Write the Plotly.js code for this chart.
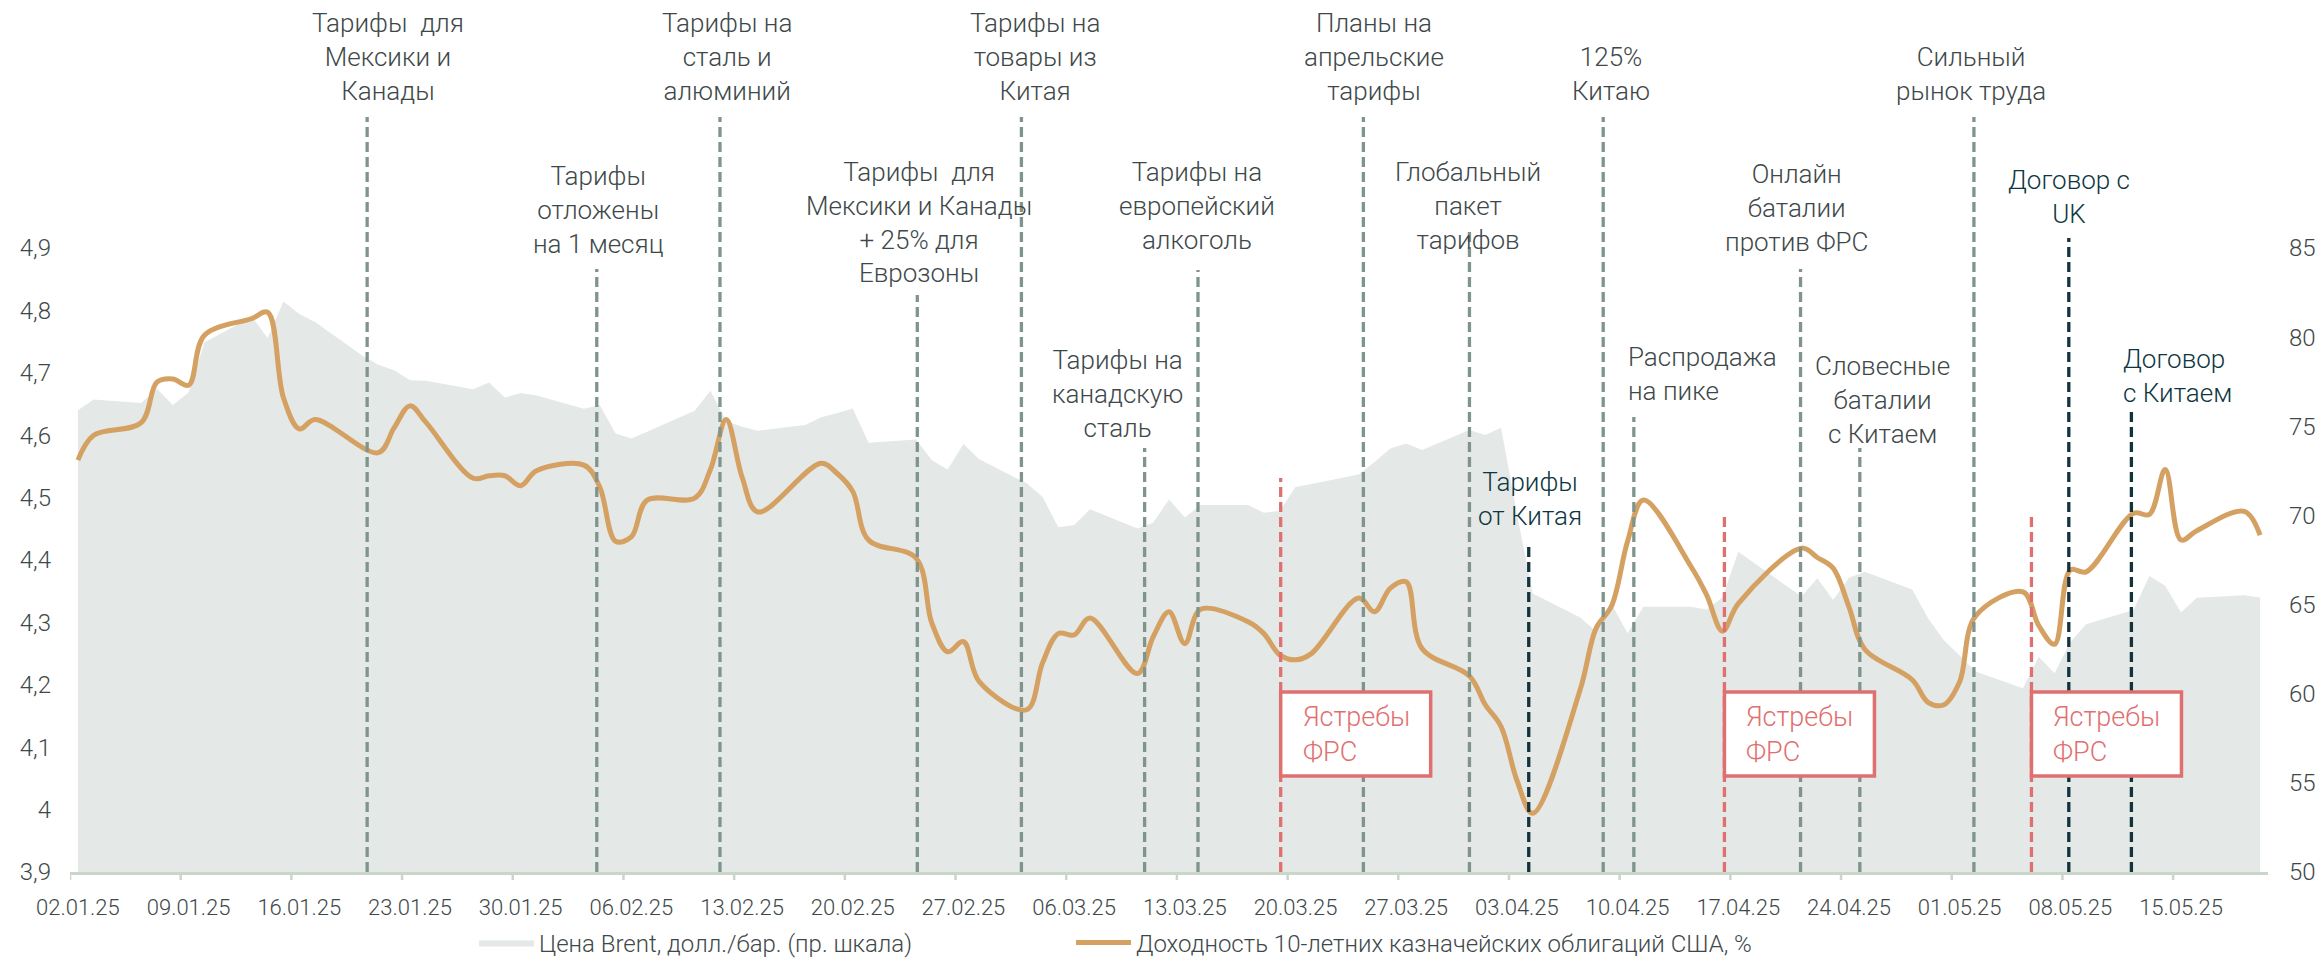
<!DOCTYPE html>
<html>
<head>
<meta charset="utf-8">
<script src="https://cdn.plot.ly/plotly-3.0.1.min.js"></script>
<style>
html,body{margin:0;padding:0;background:#ffffff;}
#chart{width:2323px;height:963px;}
</style>
</head>
<body>
<div id="chart"></div>
<script>
// ---------------- DATA ----------------
const yieldDates = [
 '2025-01-02','2025-01-03','2025-01-06','2025-01-07','2025-01-08','2025-01-09','2025-01-10',
 '2025-01-13','2025-01-14','2025-01-15','2025-01-16','2025-01-17',
 '2025-01-21','2025-01-22','2025-01-23','2025-01-24',
 '2025-01-27','2025-01-28','2025-01-29','2025-01-30','2025-01-31',
 '2025-02-03','2025-02-04','2025-02-05','2025-02-06','2025-02-07',
 '2025-02-10','2025-02-11','2025-02-12','2025-02-13','2025-02-14',
 '2025-02-18','2025-02-19','2025-02-20','2025-02-21',
 '2025-02-24','2025-02-25','2025-02-26','2025-02-27','2025-02-28',
 '2025-03-03','2025-03-04','2025-03-05','2025-03-06','2025-03-07',
 '2025-03-10','2025-03-11','2025-03-12','2025-03-13','2025-03-14',
 '2025-03-17','2025-03-18','2025-03-19','2025-03-20','2025-03-21',
 '2025-03-24','2025-03-25','2025-03-26','2025-03-27','2025-03-28',
 '2025-03-31','2025-04-01','2025-04-02','2025-04-03','2025-04-04',
 '2025-04-07','2025-04-08','2025-04-09','2025-04-10','2025-04-11',
 '2025-04-14','2025-04-15','2025-04-16','2025-04-17',
 '2025-04-21','2025-04-22','2025-04-23','2025-04-24','2025-04-25',
 '2025-04-28','2025-04-29','2025-04-30','2025-05-01','2025-05-02',
 '2025-05-05','2025-05-06','2025-05-07','2025-05-08','2025-05-09',
 '2025-05-12','2025-05-13','2025-05-14','2025-05-15','2025-05-16',
 '2025-05-19','2025-05-20'
];
const yieldValues = [
 4.56,4.60,4.62,4.685,4.69,4.68,4.76,
 4.787,4.797,4.66,4.61,4.625,
 4.572,4.612,4.647,4.621,
 4.531,4.535,4.535,4.519,4.543,
 4.552,4.517,4.43,4.437,4.496,
 4.499,4.545,4.625,4.533,4.477,
 4.555,4.539,4.51,4.432,
 4.403,4.299,4.253,4.269,4.205,
 4.16,4.235,4.282,4.28,4.307,
 4.218,4.277,4.317,4.266,4.321,
 4.301,4.282,4.248,4.24,4.25,
 4.339,4.317,4.355,4.365,4.258,
 4.214,4.168,4.133,4.047,3.994,
 4.192,4.29,4.327,4.43,4.496,
 4.39,4.344,4.286,4.33,
 4.419,4.404,4.387,4.325,4.257,
 4.208,4.172,4.168,4.205,4.31,
 4.349,4.295,4.265,4.384,4.381,
 4.475,4.473,4.545,4.432,4.447,
 4.478,4.44
];

const brentDates = [
 '2025-01-02','2025-01-03','2025-01-06','2025-01-07','2025-01-08','2025-01-09','2025-01-10',
 '2025-01-13','2025-01-14','2025-01-15','2025-01-16','2025-01-17',
 '2025-01-20','2025-01-21','2025-01-22','2025-01-23','2025-01-24',
 '2025-01-27','2025-01-28','2025-01-29','2025-01-30','2025-01-31',
 '2025-02-03','2025-02-04','2025-02-05','2025-02-06','2025-02-07',
 '2025-02-10','2025-02-11','2025-02-12','2025-02-13','2025-02-14',
 '2025-02-17','2025-02-18','2025-02-19','2025-02-20','2025-02-21',
 '2025-02-24','2025-02-25','2025-02-26','2025-02-27','2025-02-28',
 '2025-03-03','2025-03-04','2025-03-05','2025-03-06','2025-03-07',
 '2025-03-10','2025-03-11','2025-03-12','2025-03-13','2025-03-14',
 '2025-03-17','2025-03-18','2025-03-19','2025-03-20','2025-03-21',
 '2025-03-24','2025-03-25','2025-03-26','2025-03-27','2025-03-28',
 '2025-03-31','2025-04-01','2025-04-02','2025-04-03','2025-04-04',
 '2025-04-07','2025-04-08','2025-04-09','2025-04-10','2025-04-11',
 '2025-04-14','2025-04-15','2025-04-16','2025-04-17',
 '2025-04-21','2025-04-22','2025-04-23','2025-04-24','2025-04-25',
 '2025-04-28','2025-04-29','2025-04-30','2025-05-01','2025-05-02',
 '2025-05-05','2025-05-06','2025-05-07','2025-05-08','2025-05-09',
 '2025-05-12','2025-05-13','2025-05-14','2025-05-15','2025-05-16',
 '2025-05-19','2025-05-20'
];
const brentValues = [
 75.9,76.5,76.3,77.1,76.2,76.9,79.7,
 81.15,79.95,82.0,81.3,80.85,
 78.95,78.45,78.15,77.58,77.56,
 77.08,77.46,76.61,76.86,76.73,
 75.98,76.19,74.6,74.31,74.7,
 75.87,77.0,75.3,74.97,74.75,
 75.07,75.5,75.73,76.0,74.08,
 74.26,73.1,72.58,74.0,73.15,
 71.8,71.05,69.33,69.46,70.34,
 69.27,69.59,70.9,69.89,70.58,
 70.58,70.15,70.25,71.6,71.76,
 72.3,73.0,73.76,74.04,73.67,
 74.79,74.51,74.92,70.1,65.62,
 64.27,63.5,65.0,63.39,64.88,
 64.88,64.72,65.4,67.96,
 65.45,66.47,65.26,66.5,66.84,
 65.84,64.23,63.0,62.15,61.24,
 60.3,62.07,61.15,62.9,63.9,
 64.7,66.6,66.05,64.56,65.38,
 65.52,65.4
];

const seriesNames = ['Цена Brent, долл./бар. (пр. шкала)', 'Доходность 10-летних казначейских облигаций США, %'];

const xTickDates = ['2025-01-02','2025-01-09','2025-01-16','2025-01-23','2025-01-30','2025-02-06','2025-02-13',
 '2025-02-20','2025-02-27','2025-03-06','2025-03-13','2025-03-20','2025-03-27','2025-04-03','2025-04-10',
 '2025-04-17','2025-04-24','2025-05-01','2025-05-08','2025-05-15'];
const yieldTicks = [3.9,4.0,4.1,4.2,4.3,4.4,4.5,4.6,4.7,4.8,4.9];
const yieldTickLabels = ['3,9','4','4,1','4,2','4,3','4,4','4,5','4,6','4,7','4,8','4,9'];
const brentTicks = [50,55,60,65,70,75,80,85];

// events (tariff news etc.)
const eventDates = ['2025-01-20 07:00','2025-02-03 19:30','2025-02-11 14:30','2025-02-24 02:00','2025-03-02 16:00',
 '2025-03-10 11:00','2025-03-13 20:00','2025-03-24 07:00','2025-03-31 00:00','2025-04-08 11:00',
 '2025-04-10 09:30','2025-04-20 22:30','2025-04-24 16:30','2025-05-01 21:40'];
const eventLabels = ['Тарифы  для<br>Мексики и<br>Канады','Тарифы<br>отложены<br>на 1 месяц','Тарифы на<br>сталь и<br>алюминий',
 'Тарифы  для<br>Мексики и Канады<br>+ 25% для<br>Еврозоны','Тарифы на<br>товары из<br>Китая','Тарифы на<br>канадскую<br>сталь',
 'Тарифы на<br>европейский<br>алкоголь','Планы на<br>апрельские<br>тарифы','Глобальный<br>пакет<br>тарифов','125%<br>Китаю',
 'Распродажа<br>на пике','Онлайн<br>баталии<br>против ФРС','Словесные<br>баталии<br>с Китаем','Сильный<br>рынок труда'];
// China / UK deals and tariffs (dark lines)
const dealDates = ['2025-04-03 18:00','2025-05-07 21:40','2025-05-11 20:40'];
const dealLabels = ['Тарифы<br>от Китая','Договор с<br>UK','Договор<br>с Китаем'];
// Fed hawks (red lines)
const fedDates = ['2025-03-19 01:30','2025-04-16 03:00','2025-05-05 13:00'];
const fedLabel = 'Ястребы<br>ФРС';

// ---------------- LAYOUT HELPERS (page pixels) ----------------
const M = {l:70, r:55, t:248, b:91};
const PW = 2323 - M.l - M.r, PH = 963 - M.t - M.b;
const px2x = p => (p - M.l) / PW;
const px2y = p => (M.t + PH - p) / PH;

// [text x (center or left), text center y, line top y, align]
const eventPos = [
 [388,56.5,117,'center'],[598,210,269,'center'],[727,56.5,117,'center'],[919,222.5,295,'center'],
 [1035,56.5,117,'center'],[1117,393.5,448,'center'],[1197,206.5,270,'center'],[1374,56.5,117,'center'],
 [1468,206.5,230,'center'],[1611,74,117,'center'],[1626,374,417,'left'],[1796,208.5,269,'center'],
 [1882,400,448,'center'],[1971,74,117,'center']
];
const dealPos = [[1530,499,543,'center'],[2068.5,197.5,238,'center'],[2121,376,411,'left']];
const fedLineTop = [478,513,513];

const C = {
  area:'#E4E8E6', line:'#D4A162', grey:'#7F958C', dark:'#14343D', red:'#E07070',
  text:'#3E4849', darkText:'#0E3641', axis:'#C9D6C9'
};
const FONT = 'Roboto, "Noto Sans", "Open Sans", sans-serif';
const FW = 300;

const shapes = [];
const annotations = [];

function vline(date, topPx, color){
  shapes.push({type:'line', xref:'x', yref:'paper', x0:date, x1:date, y0:0, y1:px2y(topPx),
    line:{color:color, width:3.3, dash:'10px,5px'}});
}
function label(text, pos, color){
  annotations.push({xref:'paper', yref:'paper', x:px2x(pos[0]), y:px2y(pos[1]),
    xanchor: pos[3]==='left' ? 'left' : 'center', yanchor:'middle', align:pos[3],
    showarrow:false, text:text, font:{family:FONT, size:26, weight:FW, color:color}});
}

eventDates.forEach((d,i)=>{ vline(d, eventPos[i][2], C.grey); label(eventLabels[i], eventPos[i], C.text); });
dealDates.forEach((d,i)=>{ vline(d, dealPos[i][2], C.dark); label(dealLabels[i], dealPos[i], C.darkText); });
fedDates.forEach((d,i)=>{ vline(d, fedLineTop[i], C.red); });
fedDates.forEach((d)=>{
  shapes.push({type:'rect', xref:'x', xsizemode:'pixel', xanchor:d, x0:0, x1:150,
    yref:'paper', y0:px2y(776), y1:px2y(692), fillcolor:'#ffffff', line:{color:C.red, width:3.5}});
  annotations.push({xref:'x', x:d, xanchor:'left', xshift:20, yref:'paper', y:px2y(734), yanchor:'middle',
    align:'left', showarrow:false, text:fedLabel, font:{family:FONT, size:27, weight:FW, color:C.red}});
});

// tick marks sit between days (half a day before each label)
function shiftHalfDay(d){
  const t = Date.parse(d + 'T00:00:00Z') - 12*3600*1000;
  return new Date(t).toISOString().slice(0,16).replace('T',' ');
}
xTickDates.forEach(d=>{
  shapes.push({type:'line', xref:'x', yref:'paper', x0:shiftHalfDay(d), x1:shiftHalfDay(d),
    y0:0, y1:-8/PH, line:{color:C.axis, width:2.5}});
});

const traces = [
  {type:'scatter', mode:'lines', name:seriesNames[0], x:brentDates, y:brentValues, yaxis:'y',
   fill:'tozeroy', fillcolor:C.area, line:{color:C.area, width:0}, hoverinfo:'skip', legend:'legend'},
  {type:'scatter', mode:'lines', name:seriesNames[1], x:yieldDates, y:yieldValues, yaxis:'y2',
   line:{color:C.line, width:5, shape:'spline', smoothing:1}, hoverinfo:'skip', legend:'legend2'}
];

const legendFont = {family:FONT, size:24, weight:FW, color:C.text};
const layout = {
  width:2323, height:963,
  margin:{l:M.l, r:M.r, t:M.t, b:M.b, pad:0, autoexpand:false},
  paper_bgcolor:'#ffffff', plot_bgcolor:'rgba(0,0,0,0)',
  font:{family:FONT, size:22, color:C.text},
  hovermode:false,
  xaxis:{type:'date', range:['2025-01-01 12:00','2025-05-20 12:00'], tickvals:xTickDates, tickformat:'%d.%m.%y',
    ticks:'', showgrid:false, zeroline:false, showline:true, linecolor:C.axis, linewidth:3,
    tickfont:{family:FONT, size:22, weight:FW, color:C.text}, ticklabelstandoff:14},
  yaxis:{range:[50,85], side:'right', tickvals:brentTicks, showgrid:false, zeroline:false, showline:false,
    ticks:'', tickfont:{family:FONT, size:24, weight:FW, color:C.text}, ticklabelstandoff:20},
  yaxis2:{range:[3.9,4.9], side:'left', overlaying:'y', tickvals:yieldTicks, ticktext:yieldTickLabels,
    showgrid:false, zeroline:false, showline:false, ticks:'', tickfont:{family:FONT, size:24, weight:FW, color:C.text},
    ticklabelstandoff:18},
  showlegend:true,
  legend:{orientation:'h', x:px2x(474), xanchor:'left', y:px2y(943), yanchor:'middle',
    font:legendFont, itemwidth:55, bgcolor:'rgba(0,0,0,0)'},
  legend2:{orientation:'h', x:px2x(1071), xanchor:'left', y:px2y(943), yanchor:'middle',
    font:legendFont, itemwidth:55, bgcolor:'rgba(0,0,0,0)'},
  shapes:shapes,
  annotations:annotations
};

Plotly.newPlot('chart', traces, layout, {staticPlot:true, displayModeBar:false});
</script>
</body>
</html>
